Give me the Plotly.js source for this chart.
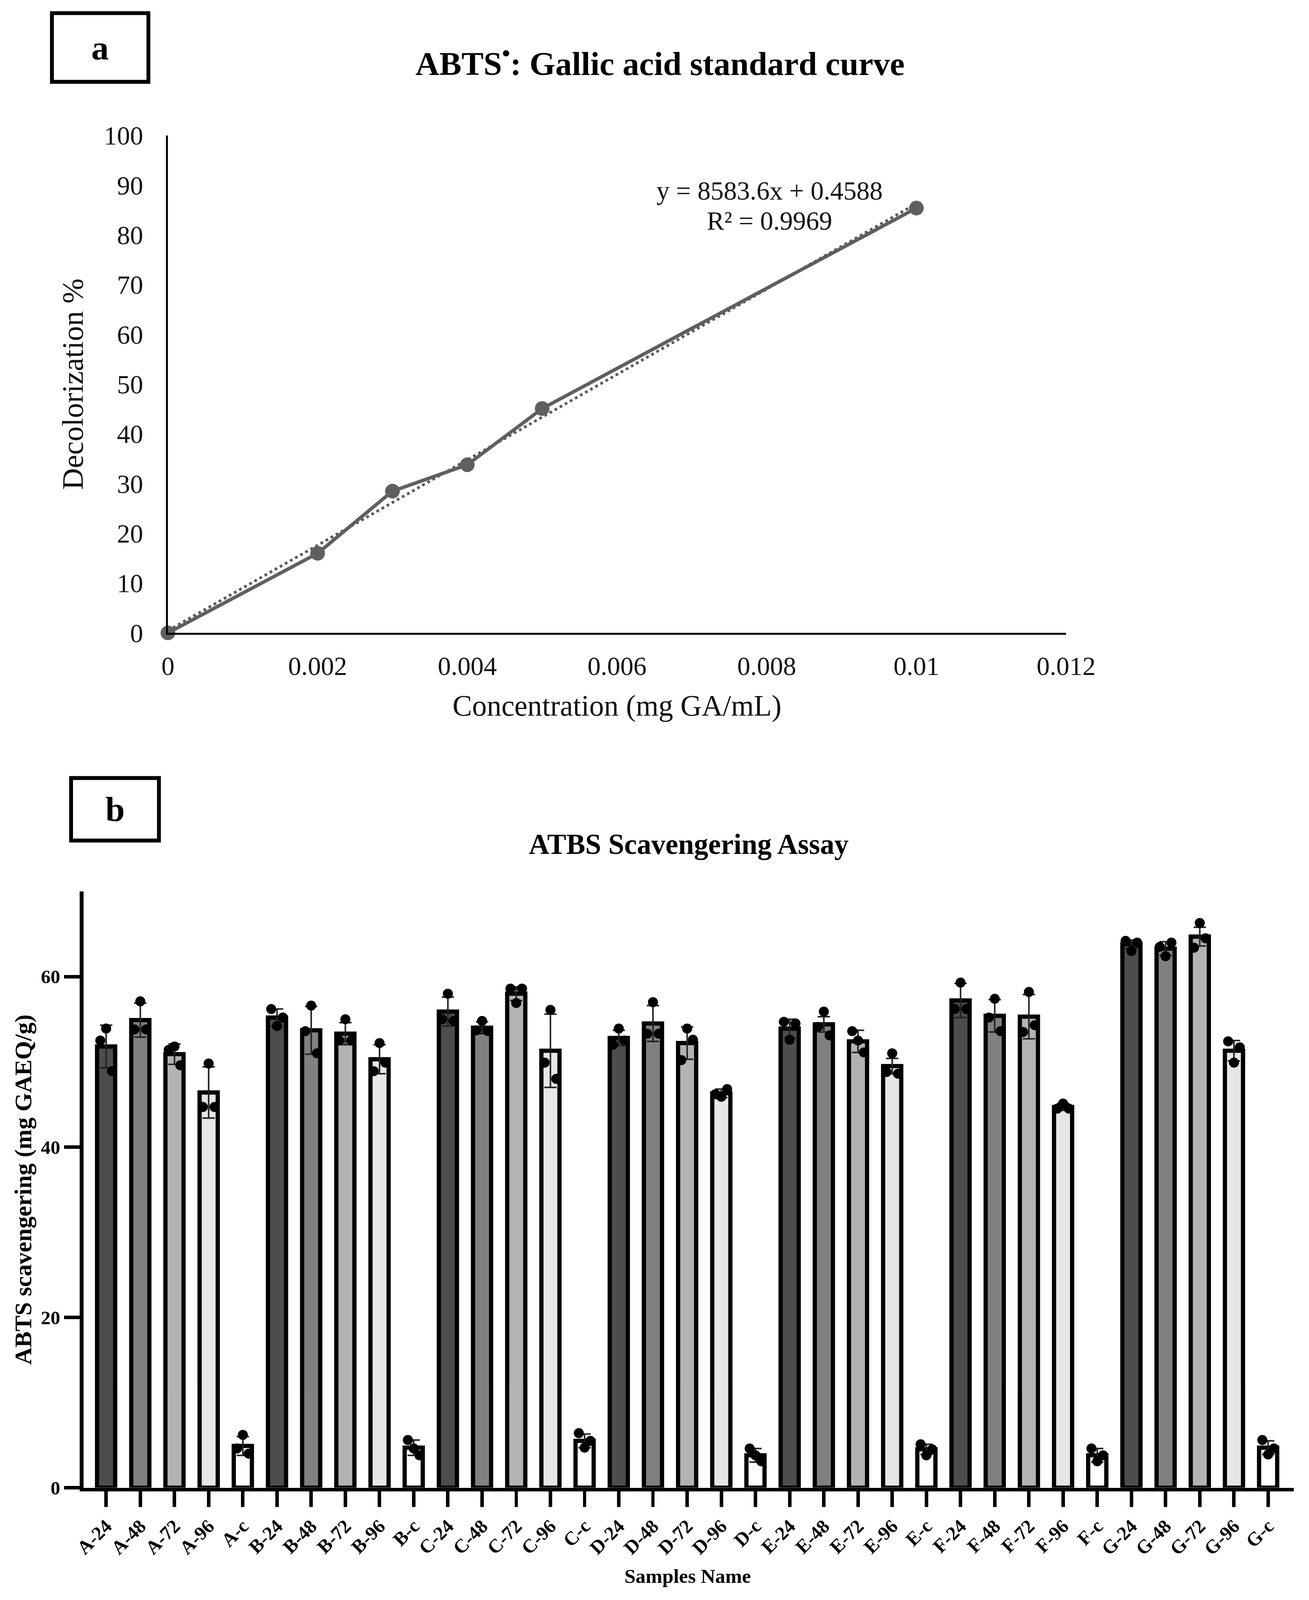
<!DOCTYPE html>
<html>
<head>
<meta charset="utf-8">
<script src="https://cdn.plot.ly/plotly-3.0.1.min.js"></script>
<style>html,body{margin:0;padding:0;background:#fff;overflow:hidden;}#chart{width:100vw;height:100vh;}</style>
</head>
<body>
<div id="chart"></div>
<script>
// ---------- Panel a data ----------
const concX = [0, 0.002, 0.003, 0.004, 0.005, 0.01];
const decolorization = [0, 16.0, 28.5, 33.8, 45.1, 85.4];
const trendX = [0, 0.01];
const trendY = [0.46, 86.29];
const xTicksA = [0, 0.002, 0.004, 0.006, 0.008, 0.01, 0.012];
const xTickTextA = ['0', '0.002', '0.004', '0.006', '0.008', '0.01', '0.012'];
const yTicksA = [0, 10, 20, 30, 40, 50, 60, 70, 80, 90, 100];

// ---------- Panel b data ----------
const samples = ['A-24','A-48','A-72','A-96','A-c','B-24','B-48','B-72','B-96','B-c',
  'C-24','C-48','C-72','C-96','C-c','D-24','D-48','D-72','D-96','D-c',
  'E-24','E-48','E-72','E-96','E-c','F-24','F-48','F-72','F-96','F-c',
  'G-24','G-48','G-72','G-96','G-c'];
const means = [51.8,54.9,50.9,46.4,4.9, 55.2,53.7,53.3,50.3,4.7, 55.9,54.0,58.0,51.3,5.5,
  52.8,54.5,52.2,46.3,3.8, 53.9,54.4,52.4,49.5,4.5, 57.2,55.4,55.3,44.7,3.8, 63.8,63.3,64.7,51.3,4.7];
const sds = [2.5,2.0,1.2,3.0,1.1, 1.0,2.8,1.3,1.7,0.9, 1.7,0.7,0.8,4.3,0.8,
  0.9,2.1,1.9,0.5,0.8, 1.1,0.9,1.3,0.9,0.6, 2.0,1.9,2.6,0.4,0.8, 0.5,0.8,1.1,1.2,0.8];
const repLeft = [52.5,53.8,51.4,44.7,4.6, 56.2,53.6,52.5,48.9,5.6, 55.0,53.7,58.6,49.9,6.4,
  52.0,53.3,50.2,46.2,4.6, 54.7,54.1,53.6,48.8,5.1, 56.2,55.2,53.5,44.5,4.6, 64.2,63.5,63.4,52.4,5.6];
const repCenter = [53.9,57.1,51.8,49.8,6.2, 54.2,56.6,55.0,52.2,4.6, 58.0,54.8,56.9,56.1,4.7,
  53.9,57.0,53.9,45.9,3.8, 52.6,55.9,52.5,51.0,3.8, 59.3,57.4,58.2,45.1,3.1, 63.0,62.4,66.3,49.9,3.9];
const repRight = [48.9,53.8,49.6,44.7,4.0, 55.2,51.0,52.5,49.9,3.8, 54.8,53.6,58.6,48.0,5.5,
  52.5,53.3,52.6,46.8,3.1, 54.5,53.1,51.1,48.6,4.5, 56.2,53.6,54.3,44.5,3.8, 64.0,64.0,64.5,51.7,4.6];
const timeColors = ['#4d4d4d','#808080','#b3b3b3','#e6e6e6','#ffffff'];
const yTicksB = [0, 20, 40, 60];

// ---------- geometry helpers ----------
const REF_W = 3352, REF_H = 4146;
const W = window.innerWidth || REF_W;
const H = window.innerHeight || REF_H;
const k = Math.min(W / REF_W, H / REF_H);
const s = v => v * k;
const si = v => Math.round(v * k);
const PX = p => p / REF_W;
const PY = p => 1 - p / REF_H;
const SERIF = 'Liberation Serif, Times New Roman, serif';

const idx = samples.map((v, i) => i);
const barColors = samples.map((v, i) => timeColors[i % 5]);
const jit = 0.17;

const traces = [
  {
    x: trendX, y: trendY, type: 'scatter', mode: 'lines', xaxis: 'x', yaxis: 'y',
    line: {color: '#595959', width: s(7), dash: si(7) + 'px,' + si(8) + 'px'}, hoverinfo: 'skip', showlegend: false, cliponaxis: false
  },
  {
    x: concX, y: decolorization, type: 'scatter', mode: 'lines+markers', xaxis: 'x', yaxis: 'y',
    line: {color: '#5f5f5f', width: s(9)}, marker: {color: '#5f5f5f', size: s(38)},
    showlegend: false, cliponaxis: false
  },
  {
    x: idx, y: means, type: 'bar', xaxis: 'x2', yaxis: 'y2', width: 0.53,
    marker: {color: barColors, line: {color: '#000', width: s(11)}},
    error_y: {type: 'data', array: sds, visible: true, color: '#222', thickness: s(4), width: s(16)},
    showlegend: false
  },
  {
    x: idx.map(i => i - jit), y: repLeft, type: 'scatter', mode: 'markers', xaxis: 'x2', yaxis: 'y2',
    marker: {color: '#000', size: s(26)}, showlegend: false, cliponaxis: false
  },
  {
    x: idx, y: repCenter, type: 'scatter', mode: 'markers', xaxis: 'x2', yaxis: 'y2',
    marker: {color: '#000', size: s(26)}, showlegend: false, cliponaxis: false
  },
  {
    x: idx.map(i => i + jit), y: repRight, type: 'scatter', mode: 'markers', xaxis: 'x2', yaxis: 'y2',
    marker: {color: '#000', size: s(26)}, showlegend: false, cliponaxis: false
  }
];

const layout = {
  width: W, height: H,
  margin: {l: 0, r: 0, t: 0, b: 0},
  paper_bgcolor: '#fff', plot_bgcolor: 'rgba(0,0,0,0)',
  font: {family: SERIF, color: '#000'},
  title: {
    text: 'ABTS<sup>•</sup>: Gallic acid standard curve',
    font: {family: SERIF, size: s(86), color: '#000', weight: 'bold'},
    xref: 'paper', yref: 'paper', x: PX(1690), y: PY(164), xanchor: 'center', yanchor: 'middle'
  },
  xaxis: {
    domain: [PX(430), PX(2730)], anchor: 'y', range: [0, 0.012],
    tickvals: xTicksA, ticktext: xTickTextA, showgrid: false, zeroline: false,
    showline: true, linecolor: '#000', linewidth: s(5), ticks: '', ticklabelstandoff: si(22),
    tickfont: {family: SERIF, size: s(68), color: '#111'},
    title: {text: 'Concentration (mg GA/mL)', font: {family: SERIF, size: s(76), color: '#111'}, standoff: s(40)}
  },
  yaxis: {
    domain: [PY(1640), PY(351)], anchor: 'x', range: [0, 100],
    tickvals: yTicksA, showgrid: false, zeroline: false,
    showline: true, linecolor: '#000', linewidth: s(5), ticks: '', ticklabelstandoff: si(46),
    tickfont: {family: SERIF, size: s(68), color: '#111'},
    title: {text: 'Decolorization %', font: {family: SERIF, size: s(78), color: '#111'}, standoff: s(30)}
  },
  xaxis2: {
    domain: [PX(214), PX(3313)], anchor: 'y2', range: [-0.66, 34.75],
    tickvals: idx, ticktext: samples, tickangle: -45, showgrid: false, zeroline: false,
    showline: true, linecolor: '#000', linewidth: s(10),
    ticks: 'outside', ticklen: si(40), tickwidth: s(9), tickcolor: '#000',
    tickfont: {family: SERIF, size: s(50), color: '#000', weight: 'bold'},
    automargin: false
  },
  yaxis2: {
    domain: [PY(3855), PY(2310)], anchor: 'x2', range: [0, 70],
    tickvals: yTicksB, showgrid: false, zeroline: false,
    showline: true, linecolor: '#000', linewidth: s(10),
    ticks: 'outside', ticklen: si(40), tickwidth: s(9), tickcolor: '#000',
    tickfont: {family: SERIF, size: s(50), color: '#000', weight: 'bold'},
    title: {text: 'ABTS scavengering (mg GAEQ/g)', font: {family: SERIF, size: s(62), color: '#000', weight: 'bold'}, standoff: s(8)}
  },
  shapes: [
    {type: 'rect', xref: 'paper', yref: 'paper', x0: PX(133), x1: PX(380), y0: PY(212), y1: PY(34),
     line: {color: '#000', width: s(10)}, fillcolor: 'rgba(0,0,0,0)'},
    {type: 'rect', xref: 'paper', yref: 'paper', x0: PX(182), x1: PX(407), y0: PY(2178), y1: PY(2016),
     line: {color: '#000', width: s(10)}, fillcolor: 'rgba(0,0,0,0)'}
  ],
  annotations: [
    {text: '<b>a</b>', xref: 'paper', yref: 'paper', x: PX(256), y: PY(123), xanchor: 'center', yanchor: 'middle',
     showarrow: false, font: {family: SERIF, size: s(90), color: '#000'}},
    {text: '<b>b</b>', xref: 'paper', yref: 'paper', x: PX(294), y: PY(2097), xanchor: 'center', yanchor: 'middle',
     showarrow: false, font: {family: SERIF, size: s(90), color: '#000'}},
    {text: '<b>ATBS Scavengering Assay</b>', xref: 'paper', yref: 'paper', x: PX(1763), y: PY(2188),
     xanchor: 'center', yanchor: 'middle', showarrow: false, font: {family: SERIF, size: s(74), color: '#000'}},
    {text: '<b>Samples Name</b>', xref: 'paper', yref: 'paper', x: PX(1761), y: PY(4084),
     xanchor: 'center', yanchor: 'middle', showarrow: false, font: {family: SERIF, size: s(52), color: '#000'}},
    {text: 'y = 8583.6x + 0.4588', xref: 'paper', yref: 'paper', x: PX(1971), y: PY(494),
     xanchor: 'center', yanchor: 'middle', showarrow: false,
     font: {family: SERIF, size: s(68), color: '#111'}},
    {text: 'R² = 0.9969', xref: 'paper', yref: 'paper', x: PX(1971), y: PY(572),
     xanchor: 'center', yanchor: 'middle', showarrow: false,
     font: {family: SERIF, size: s(68), color: '#111'}}
  ]
};

Plotly.newPlot('chart', traces, layout, {displayModeBar: false, staticPlot: true});
</script>
</body>
</html>
